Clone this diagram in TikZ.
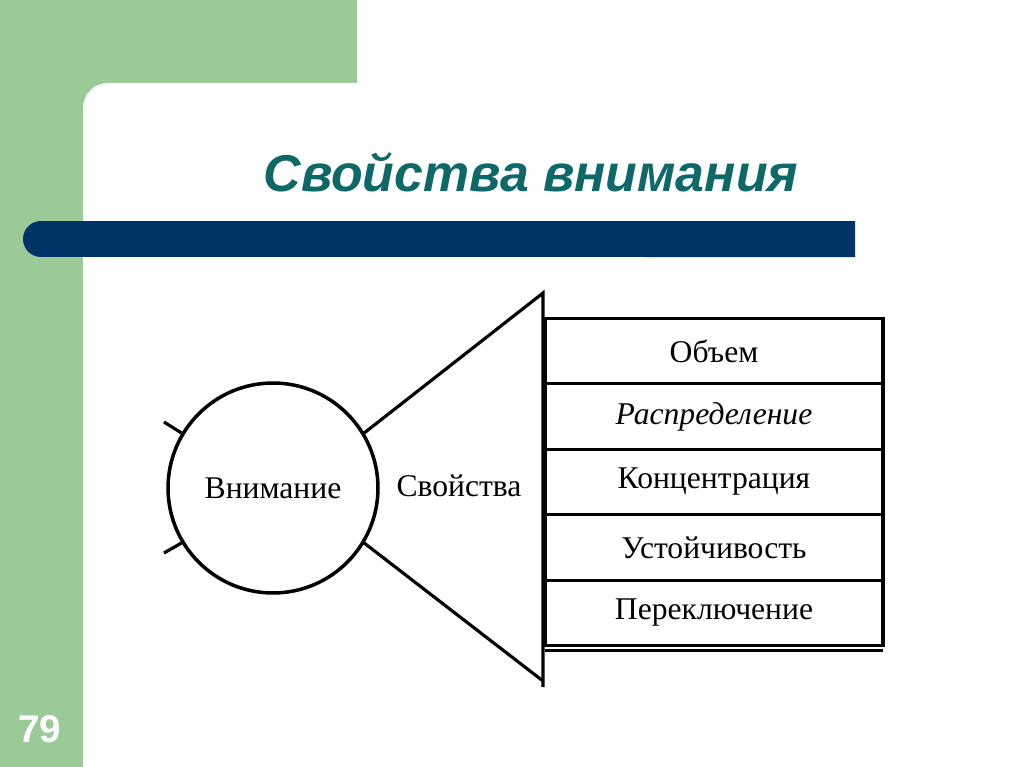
\documentclass[tikz,border=0pt]{standalone}
\usepackage{fontspec}
\setmainfont{Liberation Serif}
\setsansfont{Liberation Sans}
\usepackage{tikz}
\usetikzlibrary{positioning}

\definecolor{slidegreen}{RGB}{155,202,152}
\definecolor{slidenavy}{RGB}{0,51,102}
\definecolor{slideteal}{RGB}{14,104,104}

\begin{document}
\begin{tikzpicture}[x=0.02cm, y=-0.02cm, node distance=0pt]
    \tikzset{
      circlenode/.style={circle,draw=black,line width=2pt,outer sep=0pt,inner sep=0pt,minimum size=4.2cm,font=\fontsize{18}{21}\selectfont},
      rectnode/.style={rectangle,draw=black,line width=1.9pt,outer sep=0pt,minimum width=6.76cm,minimum height=1.31cm,font=\fontsize{18}{21}\selectfont},
      textnode/.style={font=\fontsize{18}{21}\selectfont},
      titlenode/.style={text=slideteal,font=\sffamily\bfseries\itshape\fontsize{29.5}{35}\selectfont},
      line/.style={draw=black,line width=1.8pt}
    }
    \useasboundingbox (0,0) rectangle (1024,767);
    % slide background
    \fill[slidegreen] (0,0) rectangle (357,83);
    \fill[slidegreen] (0,0) rectangle (83,767);
    \fill[slidegreen] (83,83) rectangle (120,120);
    \fill[white,rounded corners=0.5cm] (83,83) rectangle (400,400);
    \fill[slidenavy] (855,221) -- (41,221) arc[start angle=90,end angle=270,radius=0.36cm] -- (855,257) -- cycle;
    \node[titlenode](title) at (531,172){Свойства внимания};
    \node[text=white,font=\sffamily\bfseries\fontsize{22}{26}\selectfont](page) at (40,729){79};

    % diagram
    \node[circlenode](vnim) at (273,488){Внимание};
    \node[textnode](svoistva) at (459,486){Свойства};
    \coordinate (ftop) at (543,293);
    \coordinate (fbot) at (543,687);
    \coordinate (stubA) at (164,422);
    \coordinate (stubB) at (164,553);

    \node[rectnode](obem) at (714,351){Объем};
    \node[rectnode,below=of obem](raspr){\itshape Распределение};
    \node[rectnode,below=of raspr](konc){Концентрация};
    \node[rectnode,below=of konc](ustoi){Устойчивость};
    \node[rectnode,below=of ustoi](perekl){Переключение};

    \draw[line](vnim.31) -- (ftop) -- (fbot);
    \draw[line](vnim.-31) -- (543,681);
    \draw[line](vnim.149) -- (stubA);
    \draw[line](vnim.211) -- (stubB);
    \draw[line]([yshift=-0.1cm]perekl.south west) -- ([yshift=-0.1cm]perekl.south east);
\end{tikzpicture}
\end{document}
